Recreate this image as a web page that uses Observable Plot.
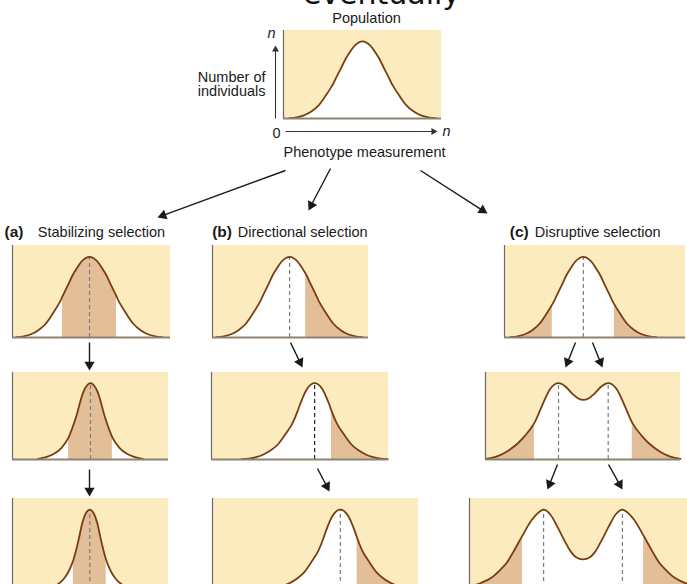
<!DOCTYPE html>
<html><head><meta charset="utf-8">
<script src="https://cdn.jsdelivr.net/npm/d3@7"></script>
<script src="https://cdn.jsdelivr.net/npm/@observablehq/plot@0.6"></script>
<style>
html,body{margin:0;padding:0;background:#fff;}
#root{position:relative;width:687px;height:584px;overflow:hidden;background:#fff;}
#root > svg{position:absolute;display:block;}
</style></head><body><div id="root"></div>
<script>
// ---------- DATA (phenotype units; population mean = 20) ----------
// Curve shapes: offsets from the mean and relative number of individuals
const shapeA_d = [-10,-9,-8,-7,-6,-5,-4.25,-4,-3.7,-3,-2.2,-2,-1,0,1,2,2.2,3,3.7,4,4.25,5,6,7,8,9,10];
const shapeA_n = [.005,.015,.04,.09,.17,.30,.41,.45,.51,.64,.79,.82,.95,1,.95,.82,.79,.64,.51,.45,.41,.30,.17,.09,.04,.015,.005];
const shapeA2_d = [-7.3,-7,-6,-5,-4,-3,-2,-1,0,1,2,3,4,5,6,7,7.3];
const shapeA2_n = [.003,.012,.035,.075,.15,.29,.55,.88,1,.88,.55,.29,.15,.075,.035,.012,.003];
const shapeA3_d = [-6,-5.5,-5,-4.5,-4,-3.5,-3,-2.5,-2.25,-2,-1.5,-1,-0.5,0,0.5,1,1.5,2,2.25,2.5,3,3.5,4,4.5,5,5.5,6];
const shapeA3_n = [.004,.012,.025,.045,.08,.13,.2,.3,.36,.44,.63,.84,.96,1,.96,.84,.63,.44,.36,.3,.2,.13,.08,.045,.025,.012,.004];
const shapeB_d = [-10,-9,-8,-7,-6,-5,-4,-3,-2.3,-2,-1,0,1,2,2.3,3,4,5,6,7,8,9,10];
const shapeB_n = [.004,.012,.03,.065,.12,.2,.33,.48,.64,.72,.93,1,.93,.72,.64,.48,.33,.2,.12,.065,.03,.012,.004];
const shapeC2_d = [-13.3,-12,-11,-10,-9,-8,-6.7,-5.5,-4.5,-3.4,-2.5,-1.5,-0.7,0,0.7,1.5,2.5,3.4,4.5,5.5,6.7,8,9,10,11,12,13.3];
const shapeC2_n = [.008,.035,.075,.135,.21,.31,.48,.74,.93,1,.96,.86,.80,.78,.80,.86,.96,1,.93,.74,.48,.31,.21,.135,.075,.035,.008];
const shapeC3_d = [-15.6,-14,-12.5,-11.3,-10.5,-9.5,-8.3,-7,-6,-5.4,-4.5,-3.5,-2.5,-1.7,-1,0,1,1.7,2.5,3.5,4.5,5.4,6,7,8.3,9.5,10.5,11.3,12.5,14,16.1];
const shapeC3_n = [.025,.07,.14,.24,.32,.47,.67,.87,.97,1,.94,.78,.6,.47,.40,.37,.40,.47,.6,.78,.94,1,.97,.87,.67,.47,.32,.24,.14,.07,.02];

// Panel means, shaded (selected) ranges and dashed peak markers
const panelNames = ["pop","a1","a2","a3","b1","b2","b3","c1","c2","c3"];
const panelShape = ["A","A","A2","A3","A","B","B","A","C2","C3"];
const panelMean  = [20,20,20,20,20,23.4,27,20,20,20];
const panelShade = [[],[[16.3,23.7]],[[17,23]],[[17.75,22.25]],[[22.2,31]],[[25.7,34]],[[29.3,38]],[[9,15.75],[24.25,31]],[[6,13.3],[26.7,34]],[[4,11.7],[28.3,37]]];
const panelPeaks = [[],[20],[20],[20],[20],[23.4],[27],[20],[16.6,23.4],[14.6,25.4]];

// Text
const titleTop = "eventually";
const popTitle = "Population";
const yLabel = ["Number of","individuals"];
const xLabel = "Phenotype measurement";
const panelLetters = ["(a)","(b)","(c)"];
const panelTitles = ["Stabilizing selection","Directional selection","Disruptive selection"];

// ---------- LAYOUT ----------
const K = 7.3; // px per phenotype unit
const layout = {
  pop:{left:283,top:30,height:88,x0:9.2,x1:30.8},
  a1:{left:12,top:245,height:92,x0:9.45,x1:31.1},
  a2:{left:12,top:372,height:87,x0:9.3,x1:30.7},
  a3:{left:12,top:498,height:90,x0:9.4,x1:30.8},
  b1:{left:212,top:245,height:92,x0:9.45,x1:30.8},
  b2:{left:211,top:372,height:87,x0:9.3,x1:33.5},
  b3:{left:212,top:498,height:90,x0:9.5,x1:37.7},
  c1:{left:504,top:245,height:92,x0:9.2,x1:34},
  c2:{left:485,top:372,height:87,x0:6.6,x1:33.3},
  c3:{left:469,top:498,height:90,x0:4.45,x1:36.1}
};
const YELLOW = "#fbebbe", TAN = "#e3bf99", BROWN = "#7a3d0f";
const shapes = {A:[shapeA_d,shapeA_n],A2:[shapeA2_d,shapeA2_n],A3:[shapeA3_d,shapeA3_n],B:[shapeB_d,shapeB_n],C2:[shapeC2_d,shapeC2_n],C3:[shapeC3_d,shapeC3_n]};
const root = document.getElementById("root");
const CURVE = "monotone-x";

panelNames.forEach((name,i) => {
  const L = layout[name];
  const [ds, ns] = shapes[panelShape[i]];
  const pts = ds.map((d,j) => ({x: panelMean[i] + d, n: ns[j]}));
  const width = Math.round((L.x1 - L.x0) * K);
  const marks = [
    Plot.areaY(pts, {x:"x", y:"n", fill:"white", curve:CURVE})
  ];
  panelShade[i].forEach(([lo,hi]) => {
    marks.push(Plot.areaY(pts, {filter: d => d.x >= lo - 1e-6 && d.x <= hi + 1e-6, x:"x", y:"n", fill:TAN, curve:CURVE}));
  });
  const dashColor = name === "b2" ? "#222" : "#7d7d7d";
  marks.push(Plot.ruleX(panelPeaks[i], {y1:0, y2:1, stroke:dashColor, strokeWidth:1.2, strokeDasharray:"4,3"}));
  marks.push(Plot.line(pts, {x:"x", y:"n", stroke:BROWN, strokeWidth:1.8, curve:CURVE}));
  marks.push(Plot.ruleY([0], {stroke:"#8e8272", strokeWidth:2}));
  marks.push(Plot.ruleX([L.x0], {stroke:"#6a6a6a", strokeWidth:1.2}));
  const svg = Plot.plot({
    width, height: L.height, margin: 0,
    x: {domain:[L.x0, L.x1], axis:null},
    y: {domain:[0, 1.14], axis:null},
    style: {background: YELLOW, overflow: "visible"},
    marks
  });
  svg.style.left = L.left + "px";
  svg.style.top = L.top + "px";
  root.appendChild(svg);
});

// ---------- OVERLAY: arrows and labels (page coordinates) ----------
const arrowX1 = [285,330,420, 89,290,575,592, 89,317,557,608];
const arrowY1 = [170,168,170, 342,342,342,342, 469,468,464,464];
const arrowX2 = [157,308,487, 89,302,565,602, 89,329,547,622];
const arrowY2 = [217,210,213, 370,367,367,367, 496,491,489,489];
const axisX1 = [275,285], axisY1 = [118,131], axisX2 = [275,437], axisY2 = [45,131];

function arrowParts(x1s,y1s,x2s,y2s,r){
  const tipDist = 1.555*r;
  return x1s.map((x1,i)=>{
    const dx = x2s[i]-x1, dy = y2s[i]-y1s[i], len = Math.hypot(dx,dy);
    const ux = dx/len, uy = dy/len;
    return {x1, y1:y1s[i], xe:x2s[i]-ux*tipDist, ye:y2s[i]-uy*tipDist, rot: Math.atan2(dx,-dy)*180/Math.PI};
  });
}
const mainArrows = arrowParts(arrowX1,arrowY1,arrowX2,arrowY2,3.8);
const axisArrows = arrowParts(axisX1,axisY1,axisX2,axisY2,2.6);

const F = "Liberation Sans, Arial, Helvetica, sans-serif";
const texts = [
  {t:popTitle, x:366, y:18, a:"middle", w:"normal", s:"normal", f:14.5},
  {t:yLabel[0], x:265, y:76.5, a:"end", w:"normal", s:"normal", f:14.5},
  {t:yLabel[1], x:265, y:91, a:"end", w:"normal", s:"normal", f:14.5},
  {t:"0", x:276, y:132.5, a:"middle", w:"normal", s:"normal", f:14.5},
  {t:"n", x:271, y:33, a:"middle", w:"normal", s:"italic", f:14.5},
  {t:"n", x:446, y:130.5, a:"middle", w:"normal", s:"italic", f:14.5},
  {t:xLabel, x:364, y:151.5, a:"middle", w:"normal", s:"normal", f:14.5},
  {t:panelLetters[0], x:4, y:231.7, a:"start", w:"bold", s:"normal", f:15.5},
  {t:panelTitles[0], x:37.3, y:231.7, a:"start", w:"normal", s:"normal", f:14.5},
  {t:panelLetters[1], x:211.7, y:231.7, a:"start", w:"bold", s:"normal", f:15.5},
  {t:panelTitles[1], x:237.3, y:231.7, a:"start", w:"normal", s:"normal", f:14.5},
  {t:panelLetters[2], x:509.3, y:231.7, a:"start", w:"bold", s:"normal", f:15.5},
  {t:panelTitles[2], x:534.3, y:231.7, a:"start", w:"normal", s:"normal", f:14.5}
];
const textMarks = ["start","middle","end"].flatMap(anchor =>
  [["normal","normal",14.5],["bold","normal",15.5],["normal","italic",14.5]].map(([w,s,f]) =>
    Plot.text(texts.filter(d=>d.a===anchor && d.w===w && d.s===s), {x:"x", y:"y", text:"t", textAnchor:anchor, lineAnchor:"middle", fontSize:f, fontWeight:w, fontStyle:s, fill:"#1a1a1a", fontFamily:F})
  )
);

const overlay = Plot.plot({
  width:687, height:584, margin:0,
  x:{type:"linear", domain:[0,687], range:[0,687], axis:null},
  y:{type:"linear", domain:[0,584], range:[0,584], axis:null},
  style:{background:"transparent", overflow:"visible"},
  marks:[
    Plot.text([titleTop], {x:381, y:3, text:d=>d, textAnchor:"middle", lineAnchor:"bottom", fontSize:30, fill:"#111", fontFamily:"DejaVu Sans, sans-serif"}),
    Plot.link(mainArrows, {x1:"x1", y1:"y1", x2:"xe", y2:"ye", stroke:"#1a1a1a", strokeWidth:1.4}),
    Plot.dot(mainArrows, {x:"xe", y:"ye", r:3.8, symbol:"triangle", rotate:"rot", fill:"#1a1a1a", stroke:"none"}),
    Plot.link(axisArrows, {x1:"x1", y1:"y1", x2:"xe", y2:"ye", stroke:"#333", strokeWidth:1.1}),
    Plot.dot(axisArrows, {x:"xe", y:"ye", r:2.6, symbol:"triangle", rotate:"rot", fill:"#333", stroke:"none"}),
    ...textMarks
  ]
});
overlay.style.left = "0px"; overlay.style.top = "0px";
root.appendChild(overlay);
</script></body></html>
